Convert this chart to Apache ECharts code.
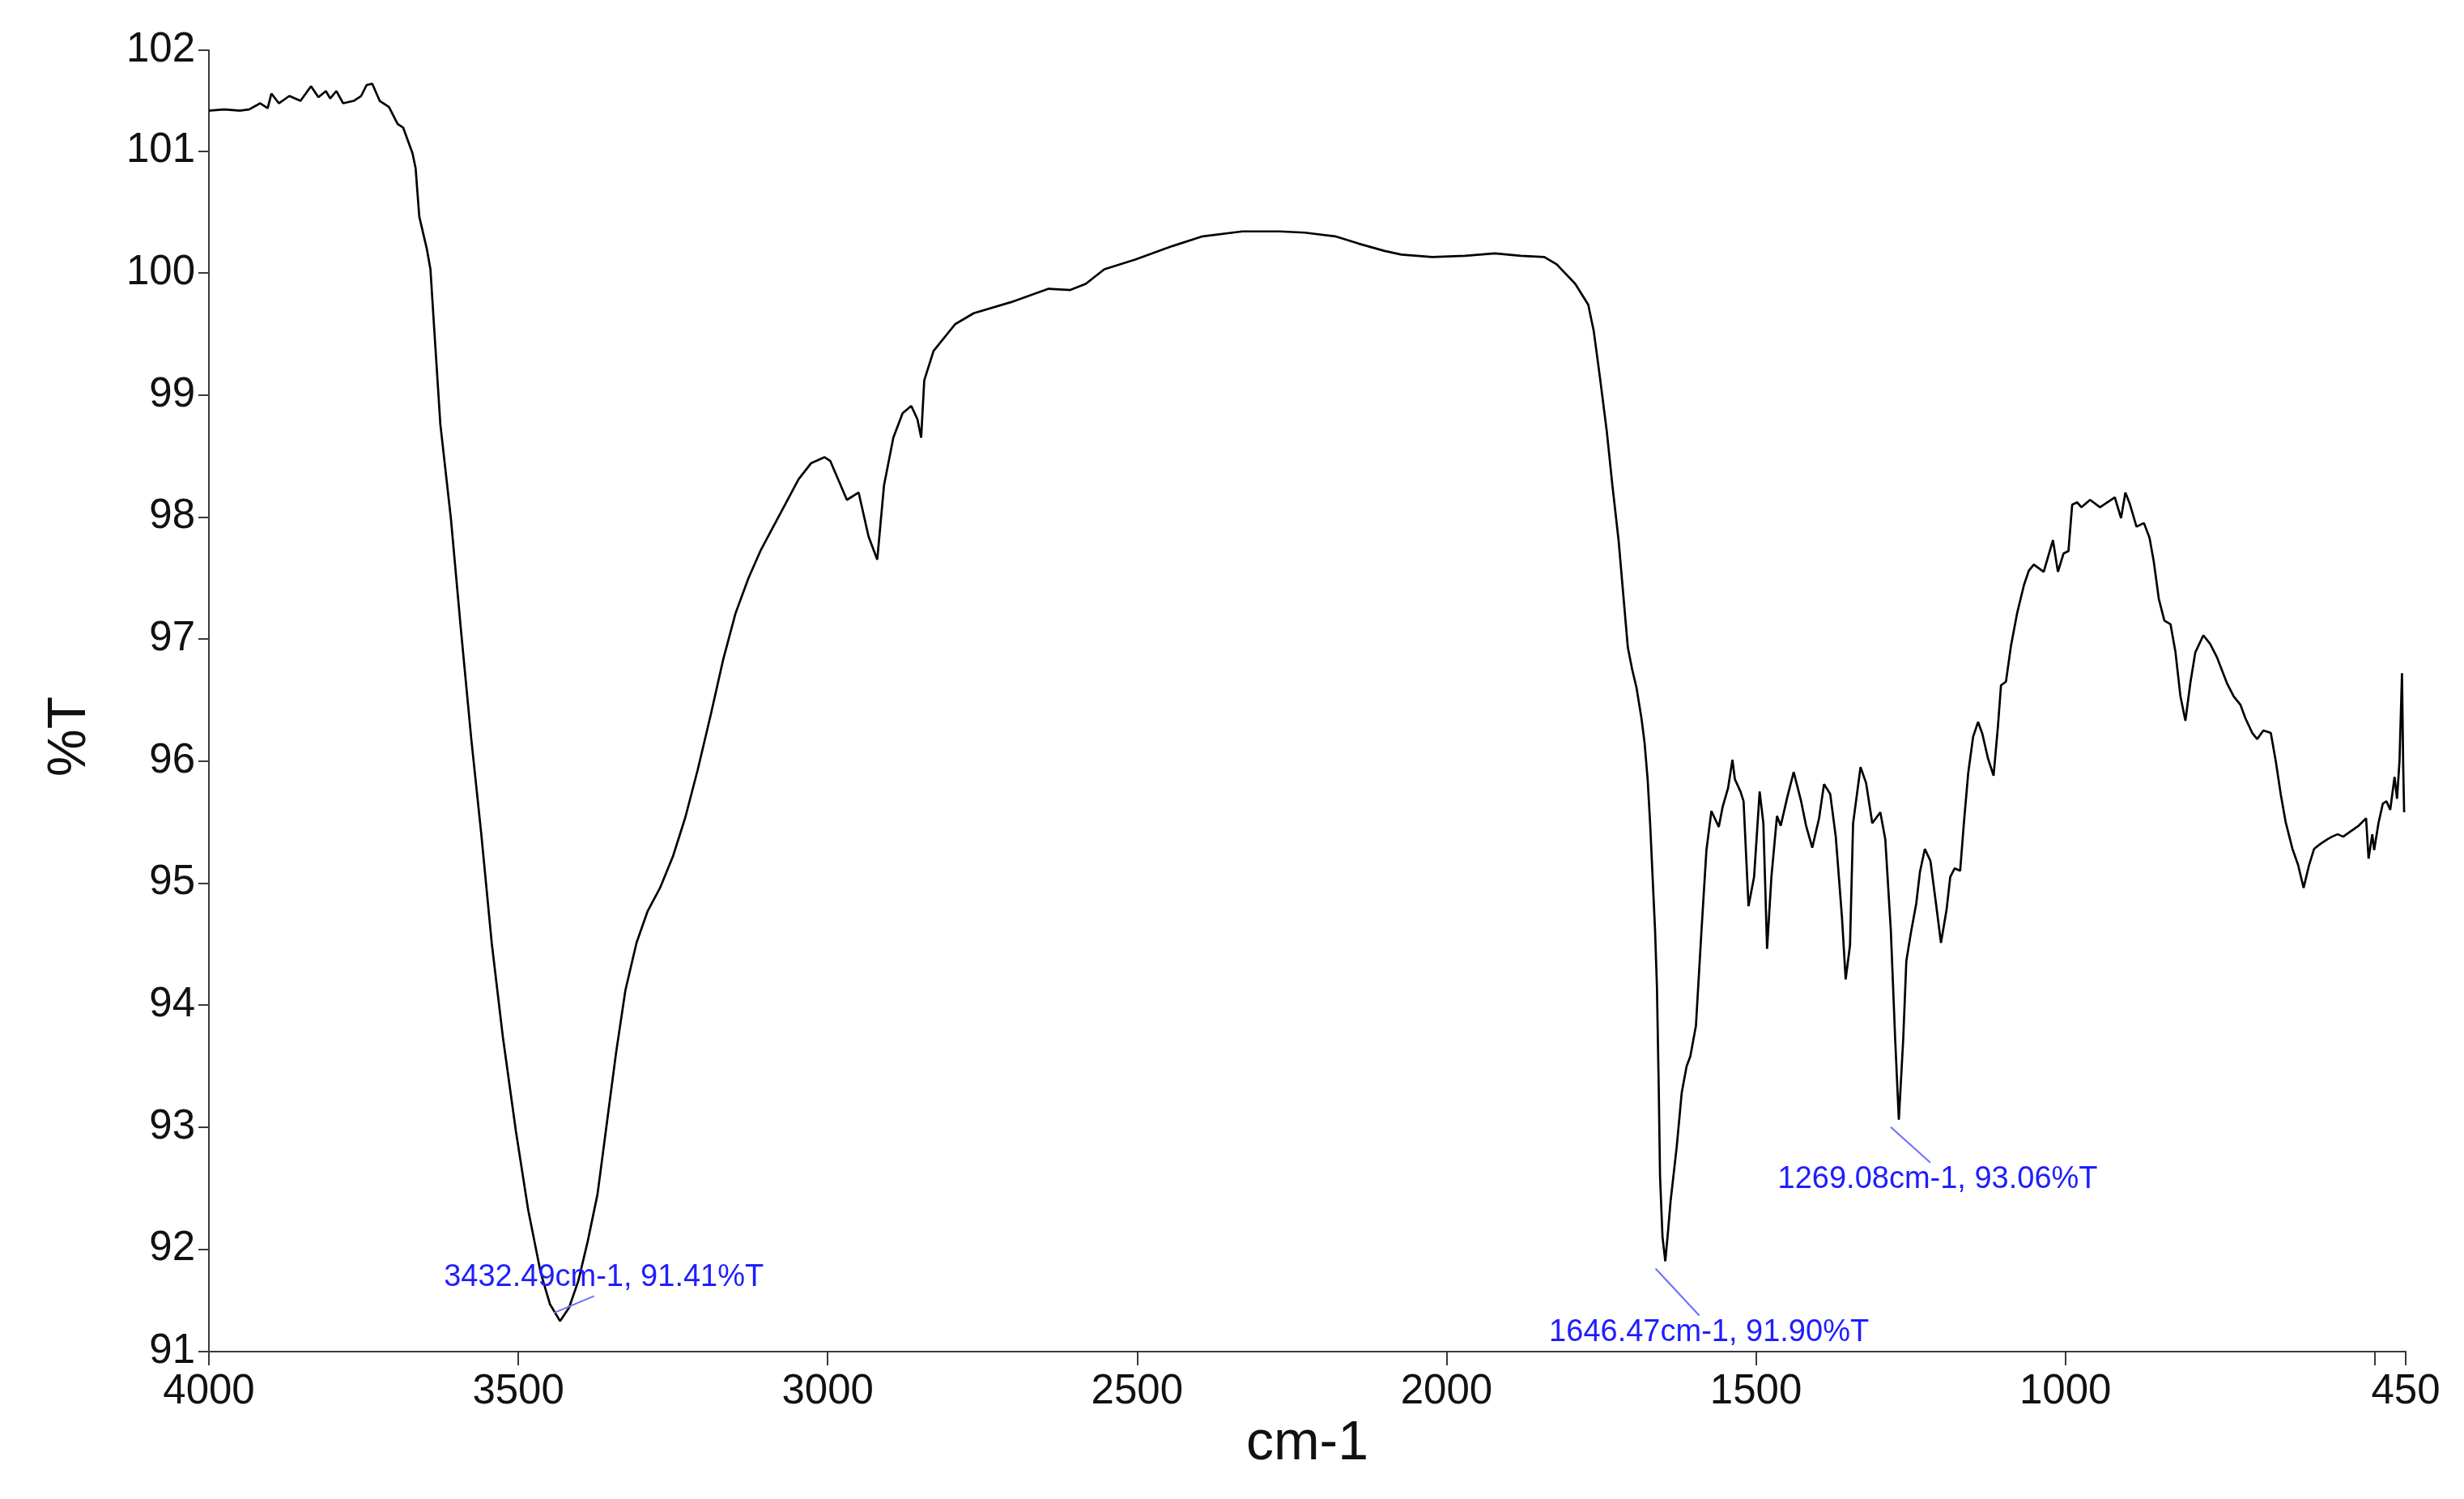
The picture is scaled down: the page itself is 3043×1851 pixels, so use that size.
<!DOCTYPE html>
<html>
<head>
<meta charset="utf-8">
<script src="https://cdn.jsdelivr.net/npm/echarts@6/dist/echarts.min.js"></script>
<style>
html,body{margin:0;padding:0;background:#fff;}
#chart{width:3043px;height:1851px;}
</style>
</head>
<body>
<div id="chart"></div>
<script>
// ---- Data (wavenumber cm-1, %T) ----
const wavenumbers = [
4000,3975,3950,3935,3917,3905,3899,3887,3870,3852,3835,3823,3811,3804,3794,3783,3766,3754,3745,3736,
3724,3709,3695,3686,3671,3666,3660,3648,3642,3636,3626,3609,3593,3576,3560,3543,3525,3504,3484,3464,
3449,3432.49,3418,3403,3388,3372,3357,3342,3327,3309,3291,3271,3250,3230,3210,3189,3169,3149,3128,3108,
3088,3067,3047,3027,3005,2996,2969,2950,2934,2920,2909,2894,2879,2865,2855,2849,2844,2829,2794,2764,
2704,2643,2608,2583,2553,2503,2443,2394,2330,2270,2229,2180,2142,2100,2073,2023,1970,1922,1880,1842,
1822,1792,1771,1762,1752,1741,1732,1722,1707,1700,1693,1685,1680,1675,1671,1667,1663,1660,1657,1655,
1651,1646.47,1642,1638,1628,1620,1612,1606,1597,1588,1580,1572,1560,1554,1545,1538,1534,1525,1520,1512,
1503,1494,1488,1482,1475,1466,1460,1449,1439,1427,1419,1409,1398,1390,1380,1371,1361,1355,1348,1343,
1331,1322,1312,1299,1291,1282,1275,1269.08,1262,1257,1249,1241,1235,1227,1218,1209,1201,1192,1186,1179,
1170,1164,1157,1149,1141,1134,1125,1116,1109,1104,1096,1088,1078,1067,1059,1051,1043,1035,1020,1012,
1003,995,989,981,974,960,944,920,910,903,896,885,873,864,857,849,840,830,822,814,
806,798,790,777,766,755,739,728,717,709,698,690,680,668,660,652,644,633,624,615,
606,598,588,576,569,560,551,540,526,514,510,504,501,494,487,481,475,468,464,460,
456,454,452.5
];
const transmittance = [
101.33,101.34,101.33,101.34,101.39,101.35,101.47,101.39,101.45,101.41,101.53,101.44,101.49,101.43,101.49,101.39,101.41,101.45,101.54,101.55,
101.41,101.36,101.22,101.19,100.98,100.86,100.46,100.20,100.03,99.55,98.76,97.99,97.09,96.18,95.41,94.51,93.74,92.97,92.32,91.81,
91.55,91.41,91.52,91.74,92.06,92.45,93.03,93.61,94.12,94.51,94.77,94.96,95.22,95.54,95.93,96.38,96.83,97.21,97.50,97.73,
97.92,98.12,98.31,98.44,98.49,98.46,98.14,98.20,97.84,97.65,98.26,98.65,98.85,98.91,98.80,98.65,99.12,99.36,99.58,99.67,
99.76,99.87,99.86,99.91,100.03,100.11,100.22,100.30,100.34,100.34,100.33,100.30,100.24,100.18,100.15,100.13,100.14,100.16,100.14,100.13,
100.07,99.91,99.74,99.52,99.14,98.70,98.26,97.81,96.93,96.75,96.60,96.35,96.15,95.85,95.49,95.05,94.61,94.15,93.30,92.60,
92.10,91.90,92.15,92.39,92.84,93.28,93.50,93.58,93.83,94.61,95.27,95.59,95.46,95.62,95.78,96.01,95.85,95.75,95.67,94.81,
95.05,95.75,95.49,94.46,95.05,95.55,95.47,95.71,95.91,95.67,95.47,95.29,95.53,95.81,95.73,95.38,94.72,94.21,94.49,95.49,
95.95,95.82,95.49,95.58,95.36,94.61,93.72,93.06,93.72,94.36,94.61,94.83,95.09,95.28,95.18,94.83,94.51,94.78,95.05,95.12,
95.10,95.49,95.90,96.20,96.32,96.22,96.02,95.88,96.28,96.62,96.65,96.94,97.21,97.44,97.56,97.61,97.58,97.55,97.81,97.55,
97.70,97.72,98.10,98.12,98.08,98.14,98.08,98.16,97.99,98.20,98.11,97.92,97.95,97.83,97.63,97.33,97.15,97.12,96.89,96.53,
96.33,96.64,96.89,97.03,96.96,96.85,96.64,96.53,96.46,96.35,96.23,96.18,96.25,96.23,96.00,95.73,95.50,95.28,95.15,94.96,
95.15,95.28,95.32,95.36,95.38,95.40,95.38,95.42,95.47,95.53,95.20,95.40,95.27,95.49,95.65,95.67,95.60,95.87,95.69,96.00,
96.72,95.95,95.58
];

// Peak annotations
const peakWn = [3432.49, 1646.47, 1269.08];
const peakT = [91.41, 91.90, 93.06];

// Axis ticks / labels
const xTickValues = [4000, 3500, 3000, 2500, 2000, 1500, 1000, 500, 450];
const xLabelValues = [4000, 3500, 3000, 2500, 2000, 1500, 1000, 450];
const yTickValues = [91.16, 92, 93, 94, 95, 96, 97, 98, 99, 100, 101, 101.825];
const xRange = [450, 4000];
const yRange = [91.16, 101.825];

// ---- Styling (pixel offsets for annotation leader lines / labels) ----
const annoStyle = [
  { line: [-8, -10, 42, -31], text: [54, -54] },
  { line: [-12, 9, 42, 67], text: [54, 88] },
  { line: [-10, 9, 39, 53], text: [48, 74] }
];

const FONT = '"Liberation Sans", Arial, sans-serif';
const axisColor = '#3a3a3a';

const chart = echarts.init(document.getElementById('chart'), null, { renderer: 'canvas' });

const spectrum = wavenumbers.map((w, i) => [w, transmittance[i]]);
const peaks = peakWn.map((w, i) => [w, peakT[i], i]);

chart.setOption({
  animation: false,
  backgroundColor: '#ffffff',
  grid: { left: 258, right: 72, top: 62, bottom: 182, containLabel: false },
  xAxis: {
    type: 'value',
    inverse: true,
    min: xRange[0],
    max: xRange[1],
    name: 'cm-1',
    nameLocation: 'middle',
    nameGap: 80,
    nameTextStyle: { fontFamily: FONT, fontSize: 68, color: '#111' },
    axisLine: { show: true, onZero: false, lineStyle: { color: axisColor, width: 2 } },
    axisTick: { show: true, length: 17, customValues: xTickValues, lineStyle: { color: axisColor, width: 2 } },
    axisLabel: {
      customValues: xLabelValues,
      fontFamily: FONT, fontSize: 51, color: '#111', margin: 24,
      formatter: v => String(Math.round(v))
    },
    splitLine: { show: false }
  },
  yAxis: {
    type: 'value',
    min: yRange[0],
    max: yRange[1],
    name: '%T',
    nameLocation: 'middle',
    nameRotate: 90,
    nameGap: 138,
    nameTextStyle: { fontFamily: FONT, fontSize: 66, color: '#111', padding: [0, 88, 0, 0] },
    axisLine: { show: true, onZero: false, lineStyle: { color: axisColor, width: 2 } },
    axisTick: { show: true, length: 13, customValues: yTickValues, lineStyle: { color: axisColor, width: 2 } },
    axisLabel: {
      customValues: yTickValues,
      fontFamily: FONT, fontSize: 51, color: '#111', margin: 17,
      formatter: v => String(Math.round(v))
    },
    splitLine: { show: false }
  },
  series: [
    {
      type: 'line',
      data: spectrum,
      showSymbol: false,
      symbol: 'none',
      smooth: false,
      lineStyle: { color: '#000000', width: 2.7 },
      z: 2
    },
    {
      type: 'custom',
      data: peaks,
      clip: false,
      silent: true,
      z: 5,
      encode: { x: 0, y: 1 },
      renderItem: function (params, api) {
        const w = api.value(0), t = api.value(1);
        const p = api.coord([w, t]);
        const s = annoStyle[params.dataIndex];
        const label = w.toFixed(2) + 'cm-1, ' + t.toFixed(2) + '%T';
        return {
          type: 'group',
          children: [
            {
              type: 'line',
              shape: { x1: p[0] + s.line[0], y1: p[1] + s.line[1], x2: p[0] + s.line[2], y2: p[1] + s.line[3] },
              style: { stroke: '#6c6cff', lineWidth: 2 }
            },
            {
              type: 'text',
              x: p[0] + s.text[0],
              y: p[1] + s.text[1],
              style: {
                text: label, fill: '#1e1eff',
                font: '38px ' + FONT,
                align: 'center', verticalAlign: 'middle'
              }
            }
          ]
        };
      }
    }
  ]
});
</script>
</body>
</html>
